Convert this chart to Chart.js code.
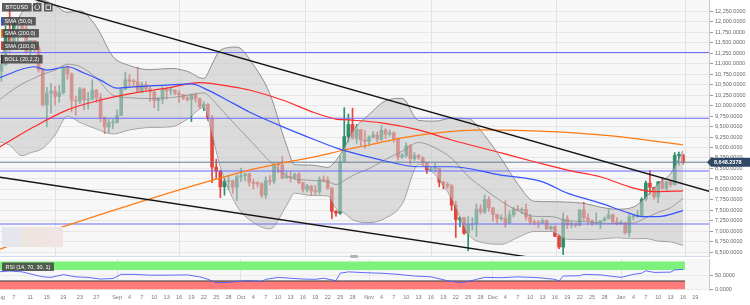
<!DOCTYPE html>
<html>
<head>
<meta charset="utf-8">
<script src="https://cdn.jsdelivr.net/npm/chart.js@4.4.1/dist/chart.umd.min.js"></script>
<style>
  html, body { margin: 0; padding: 0; background: #fff; }
  #wrap { position: relative; width: 750px; height: 305px; overflow: hidden; }
  #main { position: absolute; left: 0; top: 0; }
  #rsi { position: absolute; left: 0; top: 257px; }
  #grip { position: absolute; left: 350px; top: 255px; width: 8px; height: 3px; background: #b4b4b4; border-radius: 1px; }
</style>
</head>
<body>
<div id="wrap">
  <canvas id="main" width="750" height="257"></canvas>
  <canvas id="rsi" width="750" height="48"></canvas>
  <div id="grip"></div>
</div>
<script>
// daily candles, index 0 = 1 Aug 2019, last = 16 Jan 2020
const OPEN = [
  10080,10400,10530,10820,10980,11800,11470,11970,11980,11840,11290,11560,11390,10860,10020,10300,10350,10220,10310,10920,10760,10130,10110,10400,10140,10150,10370,10190,9720,9490,9590,
  9600,9770,10390,10620,10580,10570,10320,10500,10400,10330,10120,10160,10400,10360,10370,10300,10260,10180,10150,10270,10170,9980,10030,9700,8530,8430,8060,8190,8200,8050,
  8300,8330,8370,8170,8140,8130,7860,8210,8190,8590,8580,8270,8310,8280,8360,8160,8000,8080,7960,7950,8230,8220,8030,7470,7430,8660,9260,9550,9220,9430,9180,
  9150,9250,9300,9200,9410,9320,9350,9200,8770,8810,9040,8730,8810,8760,8630,8460,8490,8500,8170,8120,8080,7620,7280,7320,6950,7150,7170,7530,7460,7760,
  7560,7400,7300,7310,7200,7390,7530,7500,7520,7340,7220,7200,7190,7250,7060,7110,6880,6620,7290,7150,7190,7140,7510,7320,7250,7190,7200,7250,7300,7390,7220,
  7190,7200,6960,7340,7350,7360,7760,8150,8050,7820,8180,8020,8180,8110,8810,8820
];
const HIGH = [
  10470,10660,10910,11090,11900,12290,12000,12050,12030,11940,11560,11560,11440,10890,10440,10530,10470,10490,10920,10950,10780,10230,10440,10420,10320,10620,10390,10290,9730,9670,9680,
  9900,10420,10800,10740,10630,10910,10560,10570,10470,10380,10200,10450,10430,10420,10380,10370,10270,10250,10280,10280,10180,10090,10050,9770,8720,8460,8270,8320,8220,8340,
  8510,8380,8390,8240,8190,8160,8300,8330,8640,8640,8790,8430,8430,8390,8400,8170,8120,8090,8090,8300,8320,8300,8040,7500,8800,9950,9800,9940,9550,9430,9400,
  9280,9380,9370,9530,9460,9420,9370,9230,8860,9110,9070,8880,8830,8780,8650,8520,8630,8500,8200,8160,8120,7720,7350,7330,7350,7320,7650,7630,7870,7820,
  7560,7410,7390,7730,7490,7570,7620,7560,7650,7400,7270,7260,7300,7270,7130,7130,6920,7440,7370,7230,7190,7520,7690,7420,7270,7440,7260,7340,7520,7410,7320,
  7250,7210,7400,7400,7500,7800,8200,8450,8050,8190,8280,8190,8200,8880,8890,8840
];
const LOW = [
  9870,10330,10500,10580,10960,11250,11400,11540,11700,11250,11160,11260,10800,9990,9490,9820,10020,10080,10280,10630,9850,9770,10050,9900,9920,10140,10080,9620,9340,9350,9450,
  9580,9770,10380,10430,10460,10310,10310,10340,10100,9950,9880,10050,10160,10260,10260,10080,10150,10110,9620,10080,9940,9880,9650,8160,8260,7800,7860,8000,7900,7730,
  8190,8200,8080,8010,8050,7800,7780,8110,8130,8400,8250,8270,8180,8240,8130,7930,7940,7860,7880,7890,8180,8000,7300,7360,7400,8650,9120,9200,9100,9040,8980,
  9040,9220,9130,9160,9210,9270,9120,8700,8740,8760,8600,8690,8710,8580,8380,8430,8410,8060,8010,8020,7500,6850,7100,6920,6530,7030,6870,7410,7420,7470,
  7240,7190,7250,7090,7180,7340,7490,7420,7270,7170,7150,7080,7180,7040,7020,6870,6580,6440,7060,7080,7100,7130,7260,7160,7130,7160,7060,7240,7290,7200,7150,
  7170,6930,6870,7270,7330,7340,7730,7870,7760,7680,8000,7970,8060,8100,8570,8600
];
const CLOSE = [
  10400,10530,10820,10980,11800,11470,11970,11980,11840,11290,11560,11390,10860,10020,10300,10350,10220,10310,10920,10760,10130,10110,10400,10140,10150,10370,10190,9720,9490,9590,9600,
  9770,10390,10620,10580,10570,10320,10500,10400,10330,10120,10160,10400,10360,10370,10300,10260,10180,10150,10270,10170,9980,10030,9700,8530,8430,8060,8190,8200,8050,8300,
  8330,8370,8170,8140,8130,7860,8210,8190,8590,8580,8270,8310,8280,8360,8160,8000,8080,7960,7950,8230,8220,8030,7470,7430,8660,9260,9550,9220,9430,9180,9150,
  9250,9300,9200,9410,9320,9350,9200,8770,8810,9040,8730,8810,8760,8630,8460,8490,8500,8170,8120,8080,7620,7280,7320,6950,7150,7170,7530,7460,7760,7560,
  7400,7300,7310,7200,7390,7530,7500,7520,7340,7220,7200,7190,7250,7060,7110,6880,6620,7290,7150,7190,7140,7510,7320,7250,7190,7200,7250,7300,7390,7220,7190,
  7200,6960,7340,7350,7360,7760,8150,8050,7820,8180,8020,8180,8110,8810,8820,8648.2378
];

// indicators (day index, value)
const SMA50_DAYS = [2, 11, 14, 19, 23, 27, 31, 35, 43, 49, 53, 59, 63, 71, 79, 84, 87, 95, 104, 112, 124, 134, 140, 148, 155, 158, 162, 168];
const SMA50 = [10650, 10930, 10850, 10930, 10780, 10610, 10420, 10450, 10490, 10520, 10370, 10060, 9850, 9500, 9180, 8990, 8900, 8700, 8540, 8540, 8340, 8180, 7910, 7670, 7430, 7350, 7350, 7490];
const SMA100_DAYS = [2, 11, 19, 27, 35, 43, 51, 59, 63, 71, 79, 84, 87, 95, 104, 112, 124, 132, 140, 148, 156, 161, 168];
const SMA100 = [8980, 9500, 9900, 10135, 10300, 10420, 10550, 10450, 10375, 10135, 9825, 9680, 9660, 9590, 9420, 9180, 8870, 8660, 8460, 8300, 8030, 7945, 7965];
const SMA200_DAYS = [2, 18, 63, 71, 79, 86, 92, 100, 108, 120, 136, 148, 156, 168];
const SMA200 = [6550, 7110, 8460, 8630, 8780, 8940, 9060, 9230, 9345, 9420, 9380, 9300, 9220, 9060];

const BB_DAYS = [2, 5, 8, 10, 13, 16, 19, 22, 26, 30, 34, 39, 44, 48, 52, 54, 56, 60, 64, 68, 72, 74, 78, 82, 84, 86, 88, 92, 96, 100, 104, 108, 112, 116, 120, 124, 128, 132, 136, 140, 144, 148, 152, 156, 159, 162, 165, 168];
const BB_UPPER = [11050, 11590, 12235, 12355, 12515, 12395, 12230, 12265, 11885, 11175, 10960, 10860, 10890, 10820, 10650, 10990, 11325, 11400, 10975, 10280, 9055, 8590, 8580, 8525, 8690, 8990, 9385, 9785, 10115, 10175, 9645, 9630, 9700, 9690, 9285, 8735, 8130, 7715, 7705, 7695, 7665, 7575, 7525, 7575, 7815, 8130, 8375, 8925];
const BB_MID = [10100, 10325, 10520, 10615, 10750, 10850, 10990, 10935, 10665, 10250, 10190, 10170, 10190, 10250, 10305, 10155, 9935, 9505, 9090, 8665, 8330, 8250, 8215, 8185, 8115, 8210, 8330, 8495, 8715, 8910, 9120, 8990, 8740, 8310, 8000, 7715, 7490, 7355, 7350, 7250, 7230, 7195, 7185, 7195, 7320, 7450, 7560, 7790];
const BB_LOWER = [9150, 9055, 8805, 8875, 8980, 9305, 9750, 9600, 9445, 9325, 9420, 9480, 9495, 9675, 9955, 9320, 8545, 7605, 7210, 7055, 7610, 7910, 7855, 7845, 7545, 7435, 7275, 7205, 7315, 7650, 8595, 8350, 7780, 6930, 6720, 6690, 6850, 6995, 6995, 6810, 6800, 6815, 6845, 6820, 6825, 6765, 6745, 6660];

const RSI_DAYS = [2, 5, 8, 11, 13, 15, 18, 21, 24, 27, 30, 32, 35, 39, 43, 48, 51, 53, 55, 58, 60, 63, 66, 67, 70, 73, 76, 79, 81, 84, 85, 87, 91, 95, 99, 103, 107, 111, 114, 116, 118, 120, 124, 128, 133, 137, 138, 139, 143, 144, 148, 153, 156, 158, 159, 161, 165, 166, 168];
const RSI = [63, 66, 63, 52, 45, 43, 53, 45, 43, 37, 39, 54, 54, 51, 51, 52, 45, 36, 24, 25, 28, 31, 28, 36, 43, 40, 37, 36, 40, 31, 58, 63, 60, 58, 54, 48, 45, 31, 24, 28, 36, 43, 42, 45, 42, 36, 30, 48, 49, 54, 52, 43, 54, 58, 67, 61, 62, 70, 72];

// drawn levels
const TREND_UPPER_DAYS = [5, 175];
const TREND_UPPER = [12710, 7935];
const TREND_LOWER_DAYS = [2, 140];
const TREND_LOWER = [8297, 6241];
const H_LEVELS = [11270, 9700, 8440, 7170];

// axes
const Y_TICKS = [6500, 6750, 7000, 7250, 7500, 7750, 8000, 8250, 8500, 8750, 9000, 9250, 9500, 9750, 10000, 10250, 10500, 10750, 11000, 11250, 11500, 11750, 12000, 12250];
const RSI_TICKS = [0, 50];
const X_MIN = 2.66, X_MAX = 174.3;
const MONTH_DAYS = [31, 61, 92, 122, 153];
const X_TICK_DAYS = [X_MIN, 6, 10, 14, 18, 22, 26, 31, 34, 37, 40, 43, 46, 49, 52, 55, 58, 61, 64, 67, 70, 73, 76, 79, 82, 85, 88, 92, 95, 98, 101, 104, 107, 110, 113, 116, 119, 122, 125, 128, 131, 134, 137, 140, 143, 146, 149, 153, 156, 159, 162, 165, 168, 171];
const X_TICK_LABELS = ['Aug','7','11','15','19','23','27','Sep','4','7','10','13','16','19','22','25','28','Oct','4','7','10','13','16','19','22','25','28','Nov','4','7','10','13','16','19','22','25','28','Dec','4','7','10','13','16','19','22','25','28','Jan','4','7','10','13','16','19'];

const LAST_DAY = CLOSE.length - 1;
const LAST_PRICE = CLOSE[LAST_DAY];
const FONT = '"Liberation Sans", Arial, sans-serif';
Chart.defaults.font.family = FONT;

const fmt = v => Number(v).toLocaleString('en-US', { minimumFractionDigits: 4, maximumFractionDigits: 4 });
const pts = (days, vals) => days.map((d, i) => ({ x: d, y: vals[i] }));
const flat = (v, x0 = X_MIN, x1 = X_MAX) => [{ x: x0, y: v }, { x: x1, y: v }];
const candleColor = i => CLOSE[i] >= OPEN[i] ? '#2f8f6b' : '#e2463d';
const smooth = { cubicInterpolationMode: 'monotone' };

function line(data, color, width, extra) {
  return Object.assign({ type: 'line', data, borderColor: color, borderWidth: width, pointRadius: 0, fill: false, tension: 0 }, extra || {});
}

const panelBg = {
  id: 'panelBg',
  beforeDraw(chart) {
    const { ctx, chartArea: a } = chart;
    ctx.save();
    ctx.fillStyle = '#f7f7f7';
    ctx.fillRect(a.left, a.top, a.right - a.left, a.bottom - a.top);
    ctx.restore();
  }
};

function box(ctx, x, y, text, stripe) {
  ctx.font = '5.5px ' + FONT;
  const w = ctx.measureText(text).width + 7;
  ctx.fillStyle = 'rgba(72,72,72,0.88)';
  ctx.fillRect(x, y, w, 8.5);
  if (stripe) { ctx.fillStyle = stripe; ctx.fillRect(x, y, 1.5, 8.5); }
  ctx.fillStyle = '#fff';
  ctx.textBaseline = 'middle';
  ctx.fillText(text, x + 3.5, y + 4.5);
  return w;
}

const mainOverlay = {
  id: 'mainOverlay',
  afterDraw(chart) {
    const { ctx, chartArea: a } = chart;
    ctx.save();
    // faded boxes bottom left
    ctx.fillStyle = '#e4e5ed'; ctx.fillRect(2, 227, 19, 20);
    ctx.fillStyle = '#eee4e0'; ctx.fillRect(21, 227, 21, 20);
    ctx.fillStyle = '#f0e5e3'; ctx.fillRect(42, 227, 21, 20);
    // symbol + tool icons
    box(ctx, 2, 3, 'BTCUSD', null);
    ctx.fillStyle = 'rgba(72,72,72,0.88)';
    ctx.fillRect(33, 3, 8.5, 8.5);
    ctx.fillRect(44, 3, 8.5, 8.5);
    ctx.strokeStyle = '#fff'; ctx.lineWidth = 0.8;
    ctx.beginPath(); ctx.arc(37.25, 7.25, 2.4, -1.2, 4.3); ctx.stroke();
    ctx.strokeRect(46, 5, 4.5, 4.5);
    // indicator legend
    const rows = [['SMA (50,0)', '#3553ff', 17], ['SMA (200,0)', '#ff7a12', 29], ['SMA (100,0)', '#ff2a2a', 41.5], ['BOLL (20,2,2)', '#2a2a2a', 55]];
    rows.forEach(r => box(ctx, 1, r[2], r[0], r[1]));
    // last price tag
    const yc = chart.scales.y.getPixelForValue(LAST_PRICE);
    ctx.fillStyle = '#2f4866';
    ctx.beginPath();
    ctx.moveTo(a.right - 2, yc); ctx.lineTo(a.right + 2, yc - 4.5); ctx.lineTo(750, yc - 4.5);
    ctx.lineTo(750, yc + 4.5); ctx.lineTo(a.right + 2, yc + 4.5); ctx.closePath(); ctx.fill();
    ctx.fillStyle = '#fff';
    ctx.font = 'bold 5.5px ' + FONT;
    ctx.textBaseline = 'middle';
    ctx.fillText(fmt(LAST_PRICE), a.right + 5, yc + 0.5);
    // panel separator
    ctx.strokeStyle = '#d3dbea'; ctx.lineWidth = 1;
    ctx.beginPath(); ctx.moveTo(0, a.bottom - 0.5); ctx.lineTo(a.right, a.bottom - 0.5); ctx.stroke();
    ctx.restore();
  }
};

const rsiOverlay = {
  id: 'rsiOverlay',
  afterDraw(chart) {
    const ctx = chart.ctx;
    ctx.save();
    box(ctx, 2, 5.5, 'RSI (14, 70, 30, 1)', null);
    ctx.restore();
  }
};

new Chart(document.getElementById('main'), {
  type: 'bar',
  data: {
    datasets: [
      line(pts(TREND_UPPER_DAYS, TREND_UPPER), '#151515', 1.4),
      line(pts(TREND_LOWER_DAYS, TREND_LOWER), '#151515', 1.4),
      line(pts(SMA50_DAYS, SMA50), '#3553ff', 1.2, smooth),
      line(pts(SMA100_DAYS, SMA100), '#ff2a2a', 1.2, smooth),
      line(pts(SMA200_DAYS, SMA200), '#ff7a12', 1.2, smooth),
      ...H_LEVELS.map(v => line(flat(v), '#6b6bff', 1.1)),
      line(flat(LAST_PRICE), '#687c98', 1),
      line(pts(BB_DAYS, BB_MID), '#8c8c8c', 0.8, smooth),
      line(pts(BB_DAYS, BB_UPPER), '#7a7a7a', 0.8, Object.assign({ fill: '+1', backgroundColor: 'rgba(200,200,200,0.6)' }, smooth)),
      line(pts(BB_DAYS, BB_LOWER), '#7a7a7a', 0.8, smooth),
      {
        data: CLOSE.map((c, i) => ({ x: i, y: [LOW[i], HIGH[i]] })),
        backgroundColor: c => candleColor(c.dataIndex),
        barThickness: 1, grouped: false
      },
      {
        data: CLOSE.map((c, i) => ({ x: i, y: [OPEN[i], c] })),
        backgroundColor: c => candleColor(c.dataIndex),
        barThickness: 3, grouped: false, minBarLength: 1
      }
    ]
  },
  options: {
    responsive: false,
    animation: false,
    events: [],
    layout: { padding: 0 },
    plugins: { legend: { display: false }, tooltip: { enabled: false } },
    scales: {
      x: {
        type: 'linear', min: X_MIN, max: X_MAX, offset: false,
        afterBuildTicks: s => { s.ticks = MONTH_DAYS.map(v => ({ value: v })); },
        ticks: { display: false },
        grid: { color: '#e2e2e2', drawTicks: false },
        border: { display: false },
        afterFit: s => { s.height = 0; s.paddingLeft = 0; s.paddingRight = 0; }
      },
      y: {
        position: 'right', min: 6383, max: 12525,
        afterBuildTicks: s => { s.ticks = Y_TICKS.map(v => ({ value: v })); },
        ticks: { font: { size: 5.5 }, color: '#666', padding: 2, callback: v => fmt(v) },
        grid: { color: '#e7e7e7', tickLength: 4, tickColor: '#9a9a9a' },
        border: { color: '#c8c8c8' },
        afterFit: s => { s.width = 41; s.paddingTop = 0; s.paddingBottom = 0; }
      }
    }
  },
  plugins: [panelBg, mainOverlay]
});

new Chart(document.getElementById('rsi'), {
  type: 'line',
  data: {
    datasets: [
      line(pts(RSI_DAYS, RSI), '#4d5ef5', 0.9),
      line(flat(30, X_MIN, LAST_DAY + 0.5), '#3a3a3a', 1, { fill: { value: 0 }, backgroundColor: '#ff7b7b' }),
      line(flat(100, X_MIN, LAST_DAY + 0.5), 'rgba(0,0,0,0)', 0, { fill: { value: 70 }, backgroundColor: '#7cf27c' })
    ]
  },
  options: {
    responsive: false,
    animation: false,
    events: [],
    layout: { padding: { top: 2, left: 0, right: 0, bottom: 0 } },
    plugins: { legend: { display: false }, tooltip: { enabled: false } },
    scales: {
      x: {
        type: 'linear', min: X_MIN, max: X_MAX, offset: false,
        afterBuildTicks: s => { s.ticks = X_TICK_DAYS.map(v => ({ value: v })); },
        ticks: { autoSkip: false, maxRotation: 0, minRotation: 0, padding: 4, font: { size: 5.5 }, color: '#777',
                 callback: (v, i) => X_TICK_LABELS[i] },
        grid: { color: c => (c.tick && MONTH_DAYS.includes(c.tick.value)) ? '#e2e2e2' : 'rgba(0,0,0,0)', drawTicks: false },
        border: { display: false },
        afterFit: s => { s.height = 15; s.paddingLeft = 0; s.paddingRight = 0; }
      },
      y: {
        position: 'right', min: -2.5, max: 109.4,
        afterBuildTicks: s => { s.ticks = RSI_TICKS.map(v => ({ value: v })); },
        ticks: { font: { size: 5.5 }, color: '#666', padding: 2, callback: v => fmt(v) },
        grid: { color: '#ececec', tickLength: 4, tickColor: '#9a9a9a' },
        border: { color: '#c8c8c8' },
        afterFit: s => { s.width = 41; s.paddingTop = 0; s.paddingBottom = 0; }
      }
    }
  },
  plugins: [panelBg, rsiOverlay]
});
</script>
</body>
</html>
